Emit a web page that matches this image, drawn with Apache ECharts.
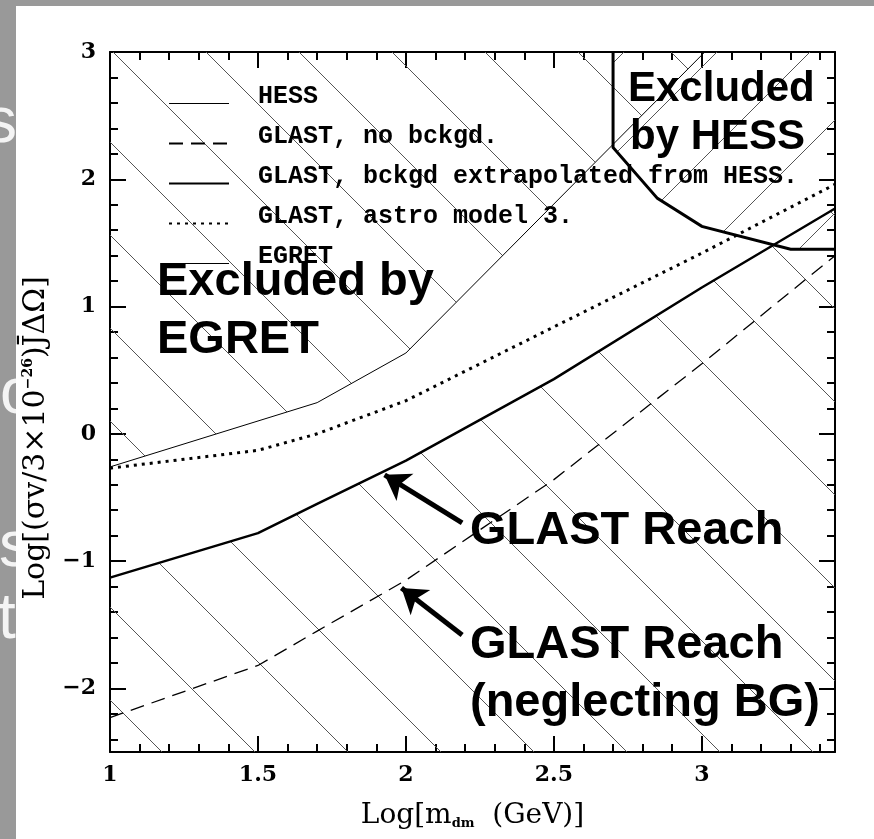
<!DOCTYPE html>
<html><head><meta charset="utf-8">
<script src="https://cdn.jsdelivr.net/npm/echarts@6/dist/echarts.min.js"></script>
<style>html,body{margin:0;padding:0;background:#999;} #c{width:874px;height:839px;}</style>
</head><body><div id="c"></div>
<script>
// ---- data ----
const hessX = [2.7, 2.7, 2.85, 3.0, 3.3, 3.45];
const hessY = [3.0, 2.25, 1.85, 1.63, 1.45, 1.45];
const noBgX = [1, 1.5, 1.7, 2, 2.5, 3, 3.45];
const noBgY = [-2.23, -1.82, -1.55, -1.15, -0.36, 0.55, 1.40];
const bgX = [1, 1.5, 1.7, 2, 2.5, 3, 3.45];
const bgY = [-1.13, -0.78, -0.55, -0.21, 0.43, 1.15, 1.77];
const astroX = [1, 1.5, 1.7, 2, 2.5, 3, 3.45];
const astroY = [-0.27, -0.13, 0.0, 0.26, 0.84, 1.42, 1.96];
const egretX = [1, 1.7, 2.0, 3.01];
const egretY = [-0.26, 0.245, 0.635, 3.0];
const seriesNames = ['HESS', 'GLAST, no bckgd.', 'GLAST, bckgd extrapolated from HESS.', 'GLAST, astro model 3.', 'EGRET'];
const xMajorTicks = [1, 1.5, 2, 2.5, 3];
const xMinorTicks = [1.1,1.2,1.3,1.4,1.6,1.7,1.8,1.9,2.1,2.2,2.3,2.4,2.6,2.7,2.8,2.9,3.1,3.2,3.3,3.4];
const yMajorTicks = [-2, -1, 0, 1, 2, 3];
const yMinorTicks = [-2.4,-2.2,-1.8,-1.6,-1.4,-1.2,-0.8,-0.6,-0.4,-0.2,0.2,0.4,0.6,0.8,1.2,1.4,1.6,1.8,2.2,2.4,2.6,2.8];
const arrowUpper = [[2.19, -0.70], [1.928, -0.322]];
const arrowLower = [[2.19, -1.58], [1.985, -1.211]];

const pairs = (xs, ys) => xs.map((x, i) => [x, ys[i]]);

function hatch(dir, phase) {
  const S = 93, c = document.createElement('canvas');
  c.width = S; c.height = S;
  const g = c.getContext('2d');
  g.strokeStyle = '#555'; g.lineWidth = 1;
  g.beginPath();
  for (let k = -2; k <= 2; k++) {
    const o = phase + k * S;
    if (dir === 'back') { g.moveTo(o - 20, -20); g.lineTo(o + S + 20, S + 20); }
    else { g.moveTo(o + 20, -20); g.lineTo(o - S - 20, S + 20); }
  }
  g.stroke();
  return { image: c, repeat: 'repeat' };
}
const hatchBack = hatch('back', 61);
const hatchFwd = hatch('fwd', 25);

const labelFont = { fontFamily: '"DejaVu Serif", serif', fontWeight: 'bold', fontSize: 22, color: '#000' };
const minus = v => (v < 0 ? '\u2212' + Math.abs(v) : String(v));

function xAx(pos, major) {
  return {
    type: 'value', position: pos, min: 1, max: 3.45,
    axisLine: { show: major, onZero: false, lineStyle: { color: '#000', width: 2 } },
    axisTick: { show: true, inside: true, length: major ? 16 : 8, customValues: major ? xMajorTicks : xMinorTicks, lineStyle: { color: '#000', width: 2 } },
    axisLabel: Object.assign({ show: major && pos === 'bottom', margin: 12, customValues: major ? xMajorTicks : xMinorTicks, formatter: minus }, labelFont),
    splitLine: { show: false },
    name: (major && pos === 'bottom') ? '{n|Log[m}{s|dm}{n|  (GeV)]}' : '',
    nameLocation: 'middle', nameGap: 49,
    nameTextStyle: { color: '#000', rich: {
      n: { fontFamily: '"DejaVu Serif", serif', fontSize: 28, color: '#000' },
      s: { fontFamily: '"DejaVu Serif", serif', fontSize: 13, fontWeight: 'bold', color: '#000', padding: [16, 0, 0, 0] }
    } }
  };
}
function yAx(pos, major) {
  return {
    type: 'value', position: pos, min: -2.5, max: 3,
    axisLine: { show: major, onZero: false, lineStyle: { color: '#000', width: 2 } },
    axisTick: { show: true, inside: true, length: major ? 16 : 8, customValues: major ? yMajorTicks : yMinorTicks, lineStyle: { color: '#000', width: 2 } },
    axisLabel: Object.assign({ show: major && pos === 'left', margin: 14, customValues: major ? yMajorTicks : yMinorTicks, formatter: minus }, labelFont),
    splitLine: { show: false },
    name: (major && pos === 'left') ? '{n|Log[(σv/3×10}{s|\u221226}{n|)J\u0304ΔΩ]}' : '',
    nameLocation: 'middle', nameGap: 55,
    nameTextStyle: { color: '#000', padding: [0, 72, 0, 0], rich: {
      n: { fontFamily: '"DejaVu Serif", serif', fontSize: 30, color: '#000' },
      s: { fontFamily: '"DejaVu Serif", serif', fontSize: 14, fontWeight: 'bold', color: '#000', padding: [0, 0, 16, 0] }
    } }
  };
}

const chart = echarts.init(document.getElementById('c'), null, { renderer: 'canvas' });
const big47 = 'bold 47px "Liberation Sans", Arial, sans-serif';
const big42 = 'bold 42px "Liberation Sans", Arial, sans-serif';
const slideFont = '64px "Liberation Sans", Arial, sans-serif';
function txt(t, x, y, font, fill, z) {
  return { type: 'text', x: x, y: y, z: z, silent: true, style: { text: t, font: font, fill: fill, align: 'left', verticalAlign: 'middle' } };
}

chart.setOption({
  animation: false,
  backgroundColor: '#999999',
  grid: { left: 110, top: 52, width: 725, height: 700, show: false },
  xAxis: [xAx('bottom', true), xAx('bottom', false), xAx('top', true), xAx('top', false)],
  yAxis: [yAx('left', true), yAx('left', false), yAx('right', true), yAx('right', false)],
  legend: {
    left: 168, top: 84, padding: 0, orient: 'vertical', itemWidth: 60, itemHeight: 10, itemGap: 1,
    selectedMode: false,
    itemStyle: { opacity: 0 },
    formatter: '{a|{name}}',
    textStyle: { color: '#000', rich: {
      a: { fontFamily: '"Liberation Mono", "Courier New", monospace', fontWeight: 'bold', fontSize: 25, lineHeight: 24, color: '#000', padding: [0, 0, 14, 24] }
    } },
    data: [
      { name: seriesNames[0], lineStyle: { width: 1 } },
      { name: seriesNames[1] },
      { name: seriesNames[2] },
      { name: seriesNames[3] },
      { name: seriesNames[4], lineStyle: { width: 1 } }
    ]
  },
  graphic: [
    { type: 'rect', z: -10, silent: true, shape: { x: 16, y: 6, width: 858, height: 833 }, style: { fill: '#ffffff' } },
    txt('s', -15, 124, slideFont, '#f4f4f4', -20),
    txt('o', 0, 395, slideFont, '#f4f4f4', -20),
    txt('s', -1, 548, slideFont, '#f4f4f4', -20),
    txt('t', -2, 620, slideFont, '#f4f4f4', -20),
    txt('Excluded by', 157, 282, big47, '#000', 50),
    txt('EGRET', 157, 340, big47, '#000', 50),
    txt('Excluded', 628, 89, big42, '#000', 50),
    txt('by HESS', 630, 137, big42, '#000', 50),
    txt('GLAST Reach', 470, 531, big47, '#000', 50),
    txt('GLAST Reach', 470, 645, big47, '#000', 50),
    txt('(neglecting BG)', 470, 703, big47, '#000', 50)
  ],
  series: [
    { name: seriesNames[0], type: 'line', symbol: 'none', xAxisIndex: 0, yAxisIndex: 0, data: pairs(hessX, hessY),
      lineStyle: { color: '#000', width: 3, join: 'miter' }, itemStyle: { color: '#000' },
      areaStyle: { origin: 'end', color: hatchFwd, opacity: 1 }, z: 3 },
    { name: seriesNames[1], type: 'line', symbol: 'none', xAxisIndex: 0, yAxisIndex: 0, data: pairs(noBgX, noBgY),
      lineStyle: { color: '#000', width: 1.3, type: [14, 8] }, itemStyle: { color: '#000' }, z: 4 },
    { name: seriesNames[2], type: 'line', symbol: 'none', xAxisIndex: 0, yAxisIndex: 0, data: pairs(bgX, bgY),
      lineStyle: { color: '#000', width: 2.5 }, itemStyle: { color: '#000' },
      areaStyle: { origin: 'start', color: hatchBack, opacity: 1 }, z: 4,
      markLine: { silent: true, animation: false, symbol: ['none', 'arrow'], symbolSize: 24,
        label: { show: false }, lineStyle: { color: '#000', width: 5, type: 'solid' },
        data: [
          [{ coord: arrowUpper[0] }, { coord: arrowUpper[1] }],
          [{ coord: arrowLower[0] }, { coord: arrowLower[1] }]
        ] } },
    { name: seriesNames[3], type: 'line', symbol: 'none', xAxisIndex: 0, yAxisIndex: 0, data: pairs(astroX, astroY),
      lineStyle: { color: '#000', width: 3, type: [3, 5] }, itemStyle: { color: '#000' }, z: 4 },
    { name: seriesNames[4], type: 'line', symbol: 'none', xAxisIndex: 0, yAxisIndex: 0, data: pairs(egretX, egretY),
      lineStyle: { color: '#000', width: 1 }, itemStyle: { color: '#000' },
      areaStyle: { origin: 'end', color: hatchBack, opacity: 1 }, z: 3 }
  ]
});
</script></body></html>
